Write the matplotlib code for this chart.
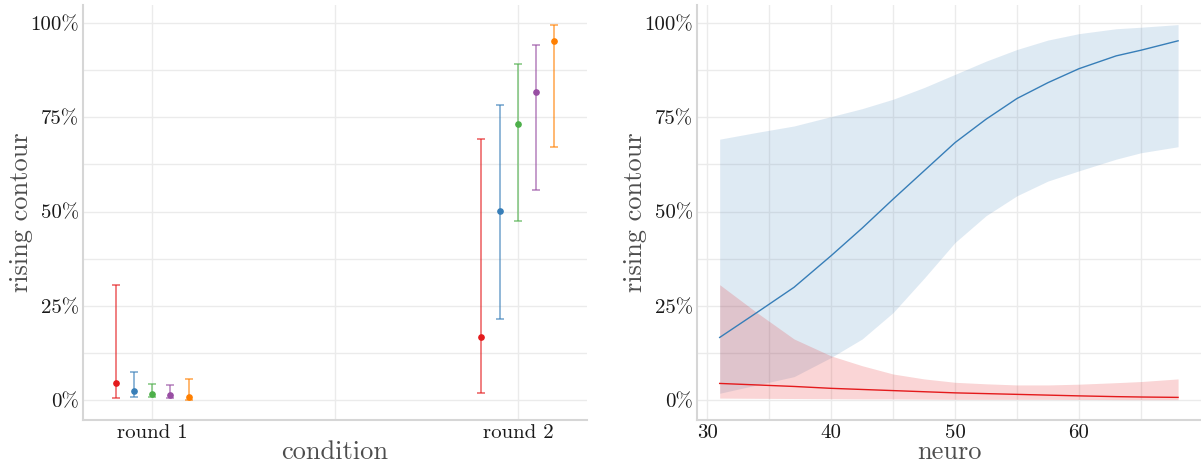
import matplotlib
matplotlib.use("Agg")
import matplotlib.pyplot as plt
import numpy as np
from matplotlib.ticker import FuncFormatter, MultipleLocator

plt.rcParams['font.family'] = ['cmr10', 'DejaVu Serif']
plt.rcParams['axes.unicode_minus'] = False
plt.rcParams['mathtext.fontset'] = 'cm'

# left panel: estimates per condition, five groups
conditions = ["round 1", "round 2"]
group_colors = ["#E41A1C", "#377EB8", "#4DAF4A", "#984EA3", "#FF7F00"]
est_round1 = [0.044, 0.025, 0.017, 0.013, 0.007]
low_round1 = [0.005, 0.008, 0.007, 0.005, 0.001]
high_round1 = [0.306, 0.074, 0.042, 0.039, 0.056]
est_round2 = [0.166, 0.501, 0.731, 0.817, 0.953]
low_round2 = [0.018, 0.216, 0.475, 0.558, 0.672]
high_round2 = [0.692, 0.784, 0.891, 0.942, 0.996]

# right panel: predictions across neuro
neuro = [31, 34, 37, 40, 42.5, 45, 47.5, 50, 52.5, 55, 57.5, 60, 63, 65, 68]
blue_fit = [0.166, 0.232, 0.299, 0.383, 0.456, 0.533, 0.608, 0.683, 0.745,
            0.800, 0.842, 0.879, 0.913, 0.928, 0.953]
blue_low = [0.018, 0.040, 0.062, 0.113, 0.162, 0.232, 0.323, 0.418, 0.489,
            0.542, 0.581, 0.608, 0.639, 0.656, 0.672]
blue_high = [0.692, 0.710, 0.727, 0.752, 0.773, 0.798, 0.829, 0.864, 0.899,
             0.930, 0.955, 0.972, 0.985, 0.989, 0.996]
red_fit = [0.044, 0.040, 0.036, 0.031, 0.028, 0.025, 0.022, 0.019, 0.017,
           0.015, 0.013, 0.011, 0.009, 0.008, 0.007]
red_low = [0.005, 0.0045, 0.004, 0.0035, 0.003, 0.003, 0.0025, 0.002, 0.002,
           0.002, 0.002, 0.0015, 0.0012, 0.001, 0.001]
red_high = [0.306, 0.232, 0.162, 0.117, 0.091, 0.069, 0.056, 0.047, 0.043,
            0.040, 0.040, 0.042, 0.046, 0.049, 0.056]

grid_col = "#EBEBEB"
spine_col = "#D6D6D6"
title_col = "#4D4D4D"

fig = plt.figure(figsize=(12.01, 4.66), dpi=100)
ax1 = fig.add_axes([83 / 1201, 46 / 466, (587 - 83) / 1201, 415 / 466])
ax2 = fig.add_axes([697 / 1201, 46 / 466, (1201 - 697) / 1201, 415 / 466])


def style(ax):
    ax.set_axisbelow(True)
    for s in ["top", "right"]:
        ax.spines[s].set_visible(False)
    for s in ["left", "bottom"]:
        ax.spines[s].set_color(spine_col)
        ax.spines[s].set_linewidth(1.5)
    ax.yaxis.set_major_locator(MultipleLocator(0.25))
    ax.yaxis.set_minor_locator(MultipleLocator(0.125))
    ax.yaxis.set_major_formatter(FuncFormatter(lambda v, p: f"{v * 100:.0f}%"))
    ax.grid(True, which="both", color=grid_col, linewidth=1.0)
    ax.tick_params(which="both", length=0, labelsize=15, colors="#1A1A1A", pad=3)
    ax.set_ylim(-0.053, 1.048)
    ax.set_ylabel("rising contour", fontsize=19, color=title_col, labelpad=-2)


# left panel
style(ax1)
xpos = np.arange(1, len(conditions) + 1)
offsets = np.linspace(-0.1, 0.1, len(group_colors))
ests = [est_round1, est_round2]
lows = [low_round1, low_round2]
highs = [high_round1, high_round2]
for ci, x0 in enumerate(xpos):
    for gi, col in enumerate(group_colors):
        x = x0 + offsets[gi]
        y = ests[ci][gi]
        ax1.errorbar([x], [y], yerr=[[y - lows[ci][gi]], [highs[ci][gi] - y]],
                     fmt="none", ecolor=col, elinewidth=1.3, capsize=3.2,
                     capthick=1.3, alpha=0.6)
        ax1.plot([x], [y], "o", color=col, markersize=3.8, zorder=3)
ax1.set_xticks(xpos)
ax1.set_xticklabels(conditions)
ax1.xaxis.set_minor_locator(MultipleLocator(0.5))
ax1.set_xlim(0.811, 2.189)
ax1.set_xlabel("condition", fontsize=19, color=title_col, labelpad=-1)

# right panel
style(ax2)
ax2.fill_between(neuro, blue_low, blue_high, color="#377EB8", alpha=0.16, linewidth=0)
ax2.fill_between(neuro, red_low, red_high, color="#E41A1C", alpha=0.18, linewidth=0)
ax2.plot(neuro, blue_fit, color="#377EB8", linewidth=1.0)
ax2.plot(neuro, red_fit, color="#E41A1C", linewidth=1.0)
ax2.xaxis.set_major_locator(MultipleLocator(10))
ax2.xaxis.set_minor_locator(MultipleLocator(5))
ax2.set_xlim(29.17, 69.85)
ax2.set_xlabel("neuro", fontsize=19, color=title_col, labelpad=-1)

fig.savefig("out.png", dpi=100)
